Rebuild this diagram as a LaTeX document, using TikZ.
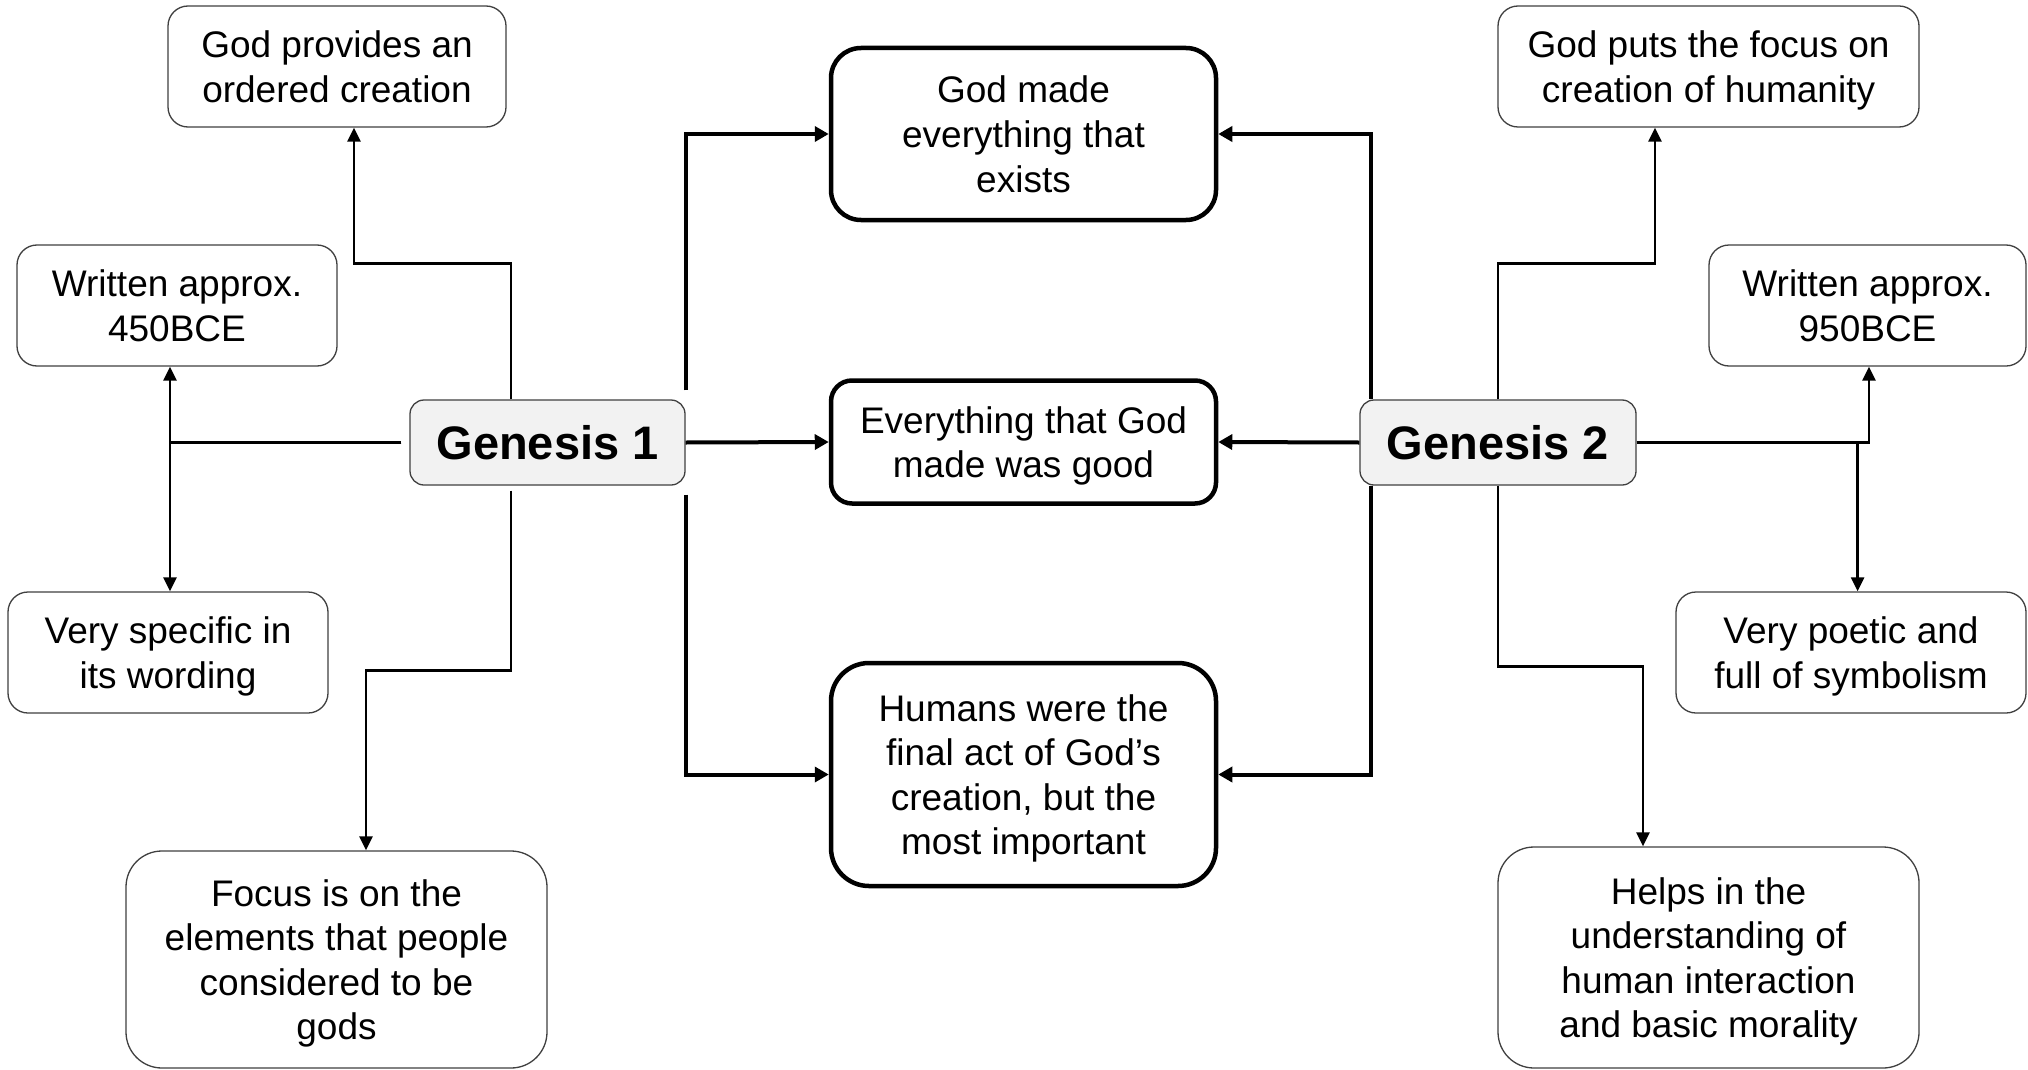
\documentclass[tikz,border=0pt]{standalone}
\usepackage{fontspec}
\setmainfont{Liberation Sans}
\usetikzlibrary{arrows.meta}
\definecolor{genfill}{HTML}{F2F2F2}
\definecolor{boxline}{HTML}{404040}
\begin{document}
\begin{tikzpicture}[x=1pt,y=-1pt,
  txt/.style={font=\fontsize{37}{44.6}\selectfont, align=center, inner sep=0pt, text depth=0pt},
  smallbox/.style={txt, draw=boxline, line width=1.3pt, fill=white, rounded corners=20pt},
  bigbox/.style={txt, draw=boxline, line width=1.3pt, fill=white, rounded corners=36pt},
  midbox/.style={txt, draw=black, line width=4.5pt, fill=white},
  genbox/.style={font=\fontsize{47}{56}\bfseries\selectfont, draw=boxline, line width=1.3pt, fill=genfill, rounded corners=14pt, inner sep=0pt, text depth=0pt},
  thinarr/.style={line width=2.5pt, -{Triangle[length=14pt,width=13pt]}},
  thickarr/.style={line width=4pt, -{Triangle[length=14pt,width=15pt]}}
]
\useasboundingbox (0,0) rectangle (2028,1070);
\fill[white] (0,0) rectangle (2028,1070);

% left side
\node[smallbox, minimum width=338pt, minimum height=121pt] (provides) at (337,66.5) {God provides an\\ordered creation};
\node[smallbox, minimum width=320pt, minimum height=121pt] (w450) at (177,305.5) {Written approx.\\450BCE};
\node[genbox, minimum width=275pt, minimum height=85pt] (gen1) at (547.5,442.5) {Genesis 1};
\node[smallbox, minimum width=320pt, minimum height=121pt] (spec) at (168,652.5) {Very specific in\\its wording};
\node[bigbox, minimum width=421pt, minimum height=217pt] (focus) at (336.5,959.5) {Focus is on the\\elements that people\\considered to be\\gods};

% middle
\node[midbox, rounded corners=30pt, minimum width=385pt, minimum height=172pt] (made) at (1023.5,134) {God made\\everything that\\exists};
\node[midbox, rounded corners=21pt, minimum width=385pt, minimum height=123pt] (good) at (1023.5,442) {Everything that God\\made was good};
\node[midbox, rounded corners=38pt, minimum width=385pt, minimum height=223pt] (humans) at (1023.5,774.5) {Humans were the\\final act of God’s\\creation, but the\\most important};

% right side
\node[smallbox, minimum width=421pt, minimum height=121pt] (puts) at (1708.5,66.5) {God puts the focus on\\creation of humanity};
\node[smallbox, minimum width=317pt, minimum height=121pt] (w950) at (1867.5,305.5) {Written approx.\\950BCE};
\node[genbox, minimum width=276pt, minimum height=85pt] (gen2) at (1498,442.5) {Genesis 2};
\node[smallbox, minimum width=350pt, minimum height=121pt] (poetic) at (1851,652.5) {Very poetic and\\full of symbolism};
\node[bigbox, minimum width=421pt, minimum height=221pt] (helps) at (1708.5,957.5) {Helps in the\\understanding of\\human interaction\\and basic morality};

% Genesis 1 connectors
\draw[thinarr] ([xshift=-36.5pt]gen1.north) -- ++(0,-136) -| ([xshift=17pt]provides.south);
\draw[thinarr] ([xshift=-8pt]gen1.west) -| ([xshift=-7pt]w450.south);
\draw[thinarr] ([xshift=-8pt]gen1.west) -| ([xshift=2pt]spec.north);
\draw[thinarr] ([xshift=-36.5pt,yshift=-5pt]gen1.south) -- ++(0,180) -| ([xshift=29.5pt]focus.north);
\draw[thickarr] ([yshift=9pt]gen1.north east) |- (made.west);
\draw[thickarr] (gen1.east) -- (good.west);
\draw[thickarr] ([yshift=-9pt]gen1.south east) |- (humans.west);

% Genesis 2 connectors
\draw[thickarr] ([xshift=12pt]gen2.north west) |- (made.east);
\draw[thickarr] (gen2.west) -- (good.east);
\draw[thickarr] ([xshift=12pt]gen2.south west) |- (humans.east);
\draw[thinarr] (gen2.north) -- ++(0,-136) -| ([xshift=-53.5pt]puts.south);
\draw[thinarr] (gen2.east) -| ([xshift=1.5pt]w950.south);
\draw[thinarr] (gen2.east) -| ([xshift=6.6pt]poetic.north);
\draw[thinarr] (gen2.south) -- ++(0,181) -| ([xshift=-65.5pt]helps.north);
\end{tikzpicture}
\end{document}
